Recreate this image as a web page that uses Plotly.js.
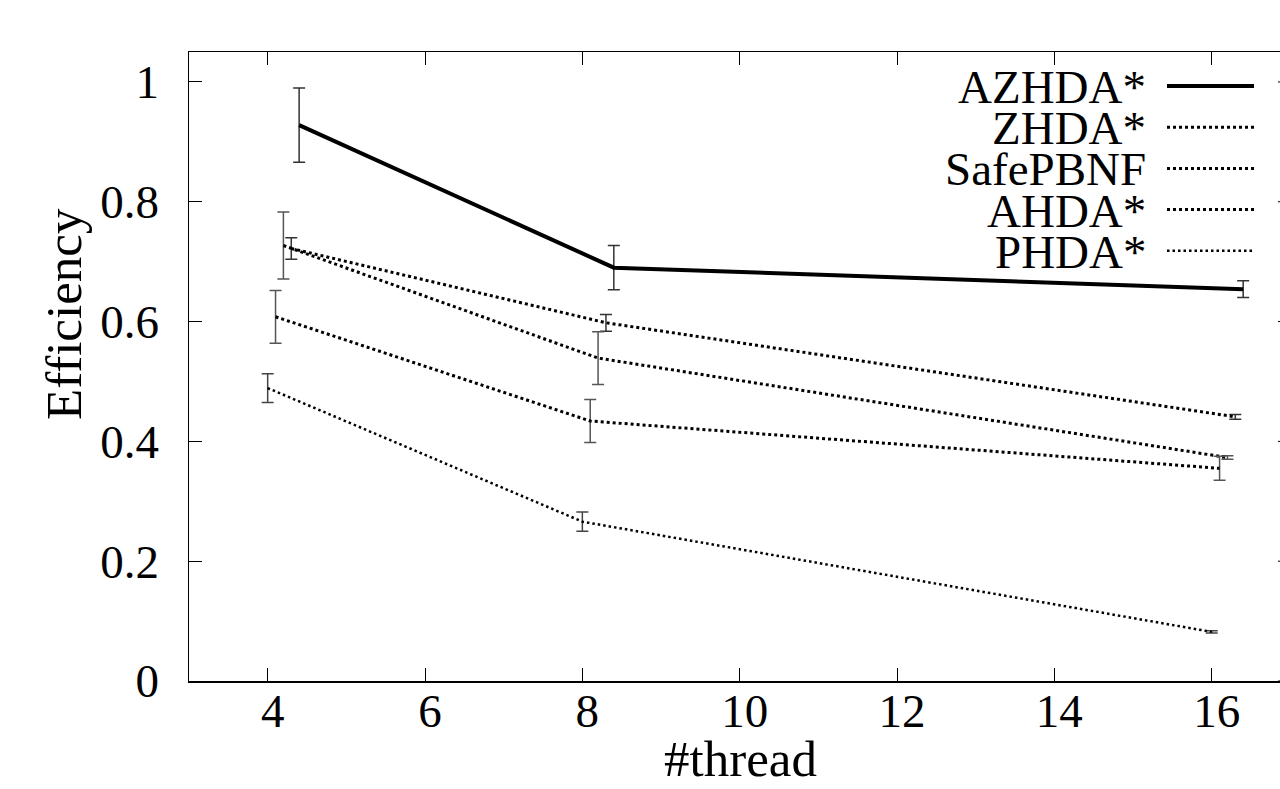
<!DOCTYPE html>
<html><head><meta charset="utf-8">
<script src="https://cdn.plot.ly/plotly-3.0.1.min.js"></script>
<style>html,body{margin:0;padding:0;background:#fff}#chart{width:1280px;height:789px}</style>
</head><body><div id="chart"></div>
<script>
// ---- data ----
const seriesNames = ['AZHDA*', 'ZHDA*', 'SafePBNF', 'AHDA*', 'PHDA*'];
const xAZHDA = [4.4, 8.4, 16.4];
const yAZHDA = [0.928, 0.690, 0.654];
const eAZHDA = [0.062, 0.037, 0.014];
const xZHDA = [4.3, 8.3, 16.3];
const yZHDA = [0.722, 0.598, 0.441];
const eZHDA = [0.018, 0.014, 0.004];
const xSafePBNF = [4.2, 8.2, 16.2];
const ySafePBNF = [0.727, 0.539, 0.373];
const eSafePBNF = [0.056, 0.044, 0.003];
const xAHDA = [4.1, 8.1, 16.1];
const yAHDA = [0.608, 0.434, 0.355];
const eAHDA = [0.044, 0.036, 0.020];
const xPHDA = [4.0, 8.0, 16.0];
const yPHDA = [0.489, 0.266, 0.082];
const ePHDA = [0.024, 0.016, 0.002];
const xTickVals = [4, 6, 8, 10, 12, 14, 16];
const yTickVals = [0, 0.2, 0.4, 0.6, 0.8, 1];
const yTickText = ['0', '0.2', '0.4', '0.6', '0.8', '1'];
const xTitle = '#thread';
const yTitle = 'Efficiency';

// ---- styling ----
const FONT = 'Liberation Serif, Times New Roman, serif';
const FS = 47;
const FS_TITLE = 51;
const W = 1280, H = 789;
const M = {l: 189, r: 0, t: 52, b: 108};
const plotW = W - M.l - M.r, plotH = H - M.t - M.b;
const pxPerX = 78.67;
const xRange = [3, 3 + plotW / pxPerX];
const yRange = [0, 1.05];

const allX = [xAZHDA, xZHDA, xSafePBNF, xAHDA, xPHDA];
const allY = [yAZHDA, yZHDA, ySafePBNF, yAHDA, yPHDA];
const allE = [eAZHDA, eZHDA, eSafePBNF, eAHDA, ePHDA];
const lineStyles = [
  {color: '#000', width: 4, dash: 'solid'},
  {color: '#000', width: 3, dash: '3px,3px'},
  {color: '#000', width: 3, dash: '3px,3px'},
  {color: '#000', width: 3, dash: '3px,3px'},
  {color: '#000', width: 2.5, dash: '2.5px,3px'}
];
const errColors = ['#333', '#333', '#555', '#555', '#444'];

const traces = seriesNames.map((n, i) => ({
  type: 'scatter', mode: 'lines', name: n,
  x: allX[i], y: allY[i],
  line: lineStyles[i],
  error_y: {type: 'data', array: allE[i], visible: true, color: errColors[i], thickness: 1.5, width: 6},
  showlegend: false
}));

const px2paperX = px => (px - M.l) / plotW;
const px2paperY = py => (H - M.b - py) / plotH;

const annotations = [];
const shapes = [];
// legend: text right-aligned, sample line to the right
seriesNames.forEach((n, i) => {
  const cy = 86 + 41.2 * i;
  annotations.push({
    xref: 'paper', yref: 'paper', x: px2paperX(1148), y: px2paperY(cy + 1),
    xanchor: 'right', yanchor: 'middle', showarrow: false, text: n,
    font: {family: FONT, size: FS, color: '#000'}
  });
  shapes.push({
    type: 'line', xref: 'paper', yref: 'paper',
    x0: px2paperX(1167), x1: px2paperX(1254), y0: px2paperY(cy), y1: px2paperY(cy),
    line: lineStyles[i]
  });
});
// right-side mirror ticks (border lies just beyond the window)
yTickVals.forEach(v => {
  shapes.push({type: 'line', xref: 'paper', yref: 'y', x0: px2paperX(1278), x1: px2paperX(1292), y0: v, y1: v,
    line: {color: '#000', width: 1}});
});
annotations.push({
  xref: 'paper', yref: 'paper', x: px2paperX(740), y: px2paperY(759),
  xanchor: 'center', yanchor: 'middle', showarrow: false, text: xTitle,
  font: {family: FONT, size: FS_TITLE, color: '#000'}
});
annotations.push({
  xref: 'paper', yref: 'paper', x: px2paperX(64), y: px2paperY(314),
  xanchor: 'center', yanchor: 'middle', showarrow: false, text: yTitle, textangle: -90,
  font: {family: FONT, size: FS_TITLE, color: '#000'}
});

const layout = {
  width: W, height: H, margin: M,
  paper_bgcolor: '#fff', plot_bgcolor: '#fff',
  font: {family: FONT, size: FS, color: '#000'},
  showlegend: false,
  xaxis: {
    range: xRange, tickvals: xTickVals, ticktext: xTickVals.map(String),
    ticks: 'inside', ticklen: 13, tickwidth: 1, tickcolor: '#000',
    showline: true, linecolor: '#000', linewidth: 1.5, mirror: 'ticks',
    showgrid: false, zeroline: false, ticklabelstandoff: -12, ticklabelshift: 5,
    tickfont: {family: FONT, size: FS, color: '#000'}
  },
  yaxis: {
    range: yRange, tickvals: yTickVals, ticktext: yTickText,
    ticks: 'inside', ticklen: 13, tickwidth: 1, tickcolor: '#000',
    showline: true, linecolor: '#000', linewidth: 1.5, mirror: false,
    showgrid: false, zeroline: false, ticklabelstandoff: 19,
    tickfont: {family: FONT, size: FS, color: '#000'}
  },
  annotations: annotations,
  shapes: shapes
};
Plotly.newPlot('chart', traces, layout, {displayModeBar: false, staticPlot: true});
</script>
</body></html>
